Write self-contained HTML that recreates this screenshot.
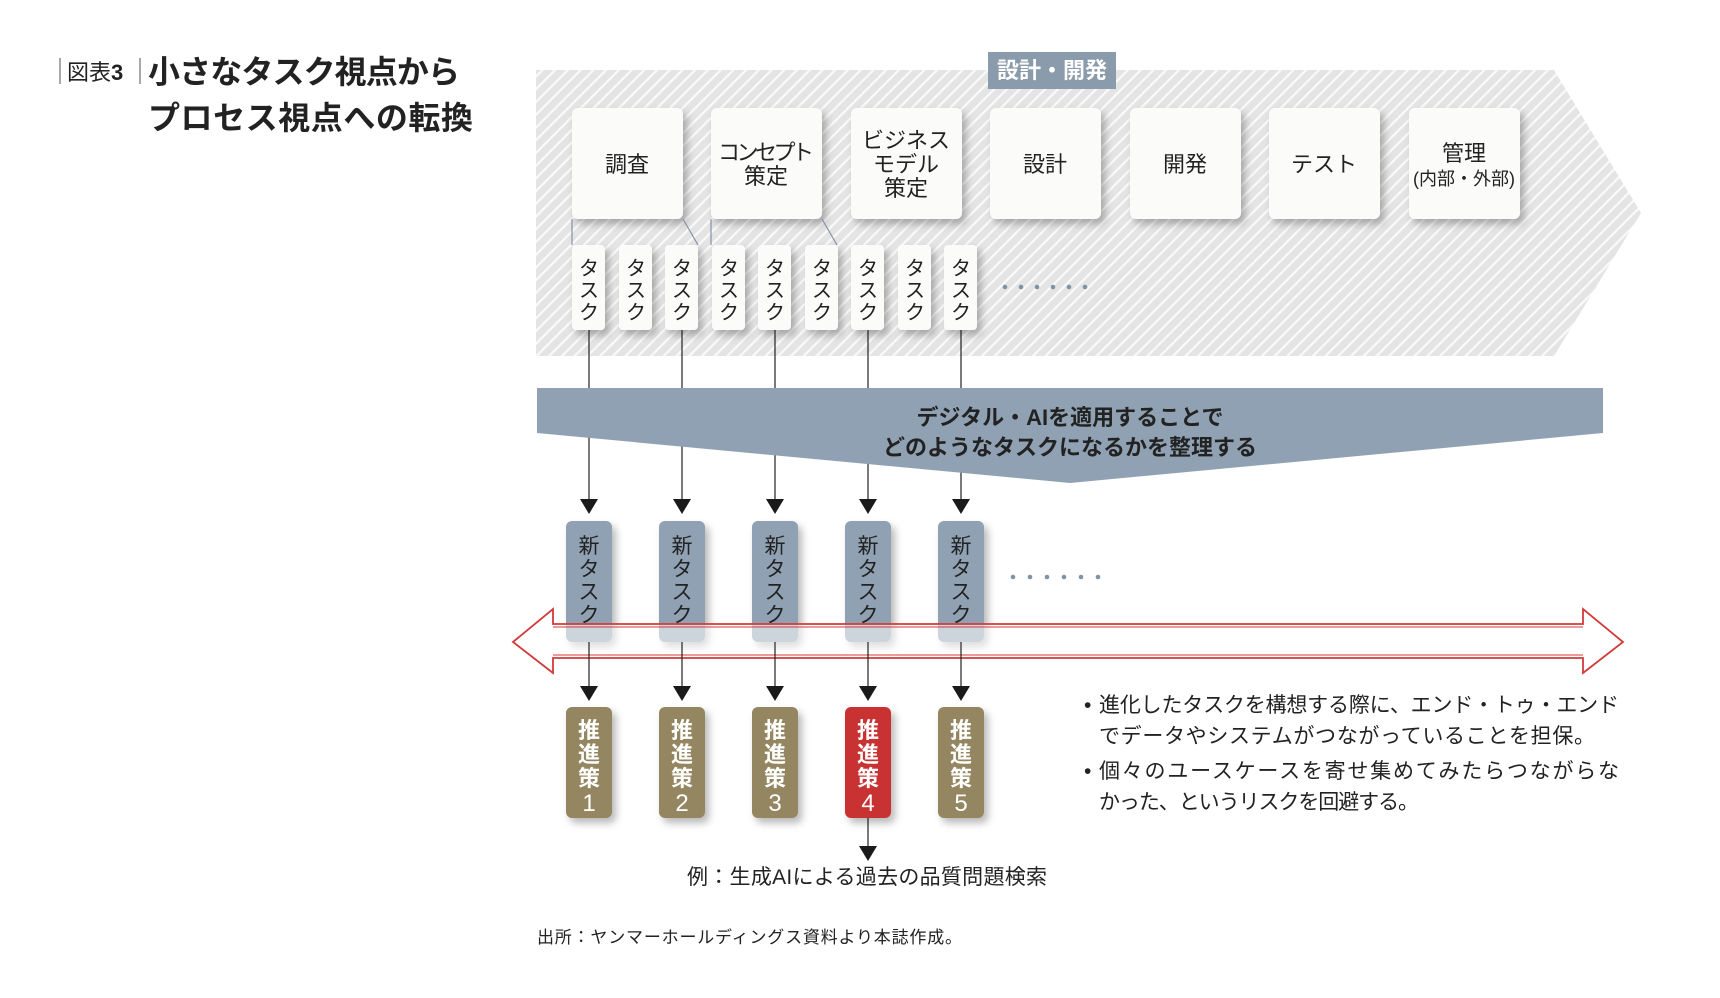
<!DOCTYPE html>
<html><head><meta charset="utf-8"><style>
html,body{margin:0;padding:0;background:#fff;}
svg{display:block;font-family:"Liberation Sans","Noto Sans CJK JP",sans-serif;}
</style></head><body>
<svg width="1720" height="998" viewBox="0 0 1720 998" xmlns="http://www.w3.org/2000/svg">
<defs>
<pattern id="h" patternUnits="userSpaceOnUse" width="9" height="9" patternTransform="rotate(45)">
<rect width="9" height="9" fill="#e4e4e4"/><rect width="2.2" height="9" fill="#fafafa"/>
</pattern>
<filter id="sh" x="-30%" y="-30%" width="170%" height="170%"><feDropShadow dx="4" dy="5" stdDeviation="4" flood-color="#000" flood-opacity="0.28"/></filter>
</defs>
<!-- title -->
<line x1="60" y1="58" x2="60" y2="84" stroke="#555" stroke-width="1"/>
<text x="67" y="80" font-size="22" fill="#222">図表<tspan font-weight="bold">3</tspan></text>
<line x1="140" y1="58" x2="140" y2="84" stroke="#555" stroke-width="1"/>
<text x="148" y="83" font-size="32" font-weight="bold" fill="#222" textLength="312">小さなタスク視点から</text>
<text x="148" y="129" font-size="32" font-weight="bold" fill="#222" textLength="325">プロセス視点への転換</text>
<!-- hatched arrow -->
<polygon points="536,70 1554,70 1641,213 1554,356 536,356" fill="url(#h)"/>
<rect x="988" y="52" width="128" height="37" fill="#8a9bab"/>
<text x="1052" y="78" font-size="22" font-weight="bold" fill="#fff" text-anchor="middle">設計・開発</text>
<!-- phase boxes -->
<g filter="url(#sh)" fill="#fbfbf9">
<rect x="572" y="108" width="111" height="111" rx="6"/>
<rect x="711" y="108" width="111" height="111" rx="6"/>
<rect x="851" y="108" width="111" height="111" rx="6"/>
<rect x="990" y="108" width="111" height="111" rx="6"/>
<rect x="1130" y="108" width="111" height="111" rx="6"/>
<rect x="1269" y="108" width="111" height="111" rx="6"/>
<rect x="1409" y="108" width="111" height="111" rx="6"/>
</g>
<g font-size="22" fill="#222" text-anchor="middle">
<text x="627" y="172">調査</text>
<text x="766" y="160" textLength="96">コンセプト</text><text x="766" y="184">策定</text>
<text x="906" y="148">ビジネス</text><text x="906" y="172">モデル</text><text x="906" y="196">策定</text>
<text x="1045" y="172">設計</text>
<text x="1185" y="172">開発</text>
<text x="1324" y="172">テスト</text>
<text x="1464" y="161">管理</text>
<text x="1464" y="185" font-size="18">(内部・外部)</text>
</g>
<g stroke="#7f93a6" stroke-width="1.2">
<line x1="572" y1="219" x2="572" y2="245"/><line x1="683" y1="219" x2="698" y2="245"/>
<line x1="711" y1="219" x2="711" y2="245"/><line x1="822" y1="219" x2="837" y2="245"/>
</g>
<!-- tasks -->
<g filter="url(#sh)" fill="#fbfbf9">
<rect x="572" y="245" width="33" height="85" rx="4"/>
<rect x="619" y="245" width="33" height="85" rx="4"/>
<rect x="665" y="245" width="33" height="85" rx="4"/>
<rect x="712" y="245" width="33" height="85" rx="4"/>
<rect x="758" y="245" width="33" height="85" rx="4"/>
<rect x="805" y="245" width="33" height="85" rx="4"/>
<rect x="851" y="245" width="33" height="85" rx="4"/>
<rect x="898" y="245" width="33" height="85" rx="4"/>
<rect x="944" y="245" width="33" height="85" rx="4"/>
</g>
<g font-size="20" fill="#222" text-anchor="middle">
<text x="589" y="275">タ</text><text x="589" y="297">ス</text><text x="589" y="319">ク</text>
<text x="636" y="275">タ</text><text x="636" y="297">ス</text><text x="636" y="319">ク</text>
<text x="682" y="275">タ</text><text x="682" y="297">ス</text><text x="682" y="319">ク</text>
<text x="729" y="275">タ</text><text x="729" y="297">ス</text><text x="729" y="319">ク</text>
<text x="775" y="275">タ</text><text x="775" y="297">ス</text><text x="775" y="319">ク</text>
<text x="822" y="275">タ</text><text x="822" y="297">ス</text><text x="822" y="319">ク</text>
<text x="868" y="275">タ</text><text x="868" y="297">ス</text><text x="868" y="319">ク</text>
<text x="915" y="275">タ</text><text x="915" y="297">ス</text><text x="915" y="319">ク</text>
<text x="961" y="275">タ</text><text x="961" y="297">ス</text><text x="961" y="319">ク</text>
</g>
<g fill="#7f93a6">
<circle cx="1005" cy="287" r="2.3"/><circle cx="1021" cy="287" r="2.3"/><circle cx="1037" cy="287" r="2.3"/><circle cx="1053" cy="287" r="2.3"/><circle cx="1069" cy="287" r="2.3"/><circle cx="1085" cy="287" r="2.3"/>
<circle cx="1013" cy="577" r="2.3"/><circle cx="1030" cy="577" r="2.3"/><circle cx="1047" cy="577" r="2.3"/><circle cx="1064" cy="577" r="2.3"/><circle cx="1081" cy="577" r="2.3"/><circle cx="1098" cy="577" r="2.3"/>
</g>
<!-- connectors -->
<g stroke="#222" stroke-width="1.2">
<line x1="589" y1="330" x2="589" y2="505"/><line x1="682" y1="330" x2="682" y2="505"/><line x1="775" y1="330" x2="775" y2="505"/><line x1="868" y1="330" x2="868" y2="505"/><line x1="961" y1="330" x2="961" y2="505"/>
</g>
<!-- band -->
<polygon points="537,388 1603,388 1603,433 1070,483 537,433" fill="#8fa1b2"/>
<g font-size="22" font-weight="bold" fill="#222" text-anchor="middle">
<text x="1070" y="425">デジタル・AIを適用することで</text>
<text x="1070" y="455">どのようなタスクになるかを整理する</text>
</g>
<g fill="#1a1a1a">
<polygon points="580,499 598,499 589,514"/><polygon points="673,499 691,499 682,514"/><polygon points="766,499 784,499 775,514"/><polygon points="859,499 877,499 868,514"/><polygon points="952,499 970,499 961,514"/>
</g>
<!-- new tasks -->
<g filter="url(#sh)" fill="#8fa1b2">
<rect x="566" y="521" width="46" height="121" rx="6"/><rect x="659" y="521" width="46" height="121" rx="6"/><rect x="752" y="521" width="46" height="121" rx="6"/><rect x="845" y="521" width="46" height="121" rx="6"/><rect x="938" y="521" width="46" height="121" rx="6"/>
</g>
<g font-size="21" fill="#222" text-anchor="middle">
<text x="589" y="553">新</text><text x="589" y="576">タ</text><text x="589" y="599">ス</text><text x="589" y="622">ク</text>
<text x="682" y="553">新</text><text x="682" y="576">タ</text><text x="682" y="599">ス</text><text x="682" y="622">ク</text>
<text x="775" y="553">新</text><text x="775" y="576">タ</text><text x="775" y="599">ス</text><text x="775" y="622">ク</text>
<text x="868" y="553">新</text><text x="868" y="576">タ</text><text x="868" y="599">ス</text><text x="868" y="622">ク</text>
<text x="961" y="553">新</text><text x="961" y="576">タ</text><text x="961" y="599">ス</text><text x="961" y="622">ク</text>
</g>
<!-- red double arrow -->
<polygon points="513,642 553,609 553,624 1583,624 1583,609 1623,642 1583,673 1583,658 553,658 553,673" fill="#fff" fill-opacity="0.55" stroke="#d23a3a" stroke-width="1.8"/>
<line x1="553" y1="627" x2="1583" y2="627" stroke="#d23a3a" stroke-width="1"/>
<line x1="553" y1="655" x2="1583" y2="655" stroke="#d23a3a" stroke-width="1"/>
<g stroke="#222" stroke-width="1.2">
<line x1="589" y1="642" x2="589" y2="692"/><line x1="682" y1="642" x2="682" y2="692"/><line x1="775" y1="642" x2="775" y2="692"/><line x1="868" y1="642" x2="868" y2="692"/><line x1="961" y1="642" x2="961" y2="692"/>
<line x1="868" y1="818" x2="868" y2="852"/>
</g>
<g fill="#1a1a1a">
<polygon points="580,686 598,686 589,701"/><polygon points="673,686 691,686 682,701"/><polygon points="766,686 784,686 775,701"/><polygon points="859,686 877,686 868,701"/><polygon points="952,686 970,686 961,701"/>
<polygon points="859,846 877,846 868,861"/>
</g>
<!-- policy -->
<g filter="url(#sh)">
<rect x="566" y="707" width="46" height="111" rx="6" fill="#948660"/><rect x="659" y="707" width="46" height="111" rx="6" fill="#948660"/><rect x="752" y="707" width="46" height="111" rx="6" fill="#948660"/><rect x="845" y="707" width="46" height="111" rx="6" fill="#c83232"/><rect x="938" y="707" width="46" height="111" rx="6" fill="#948660"/>
</g>
<g font-size="22" font-weight="bold" fill="#fff" text-anchor="middle">
<text x="589" y="738">推</text><text x="589" y="762">進</text><text x="589" y="786">策</text><text x="589" y="811" font-weight="normal" font-size="24">1</text>
<text x="682" y="738">推</text><text x="682" y="762">進</text><text x="682" y="786">策</text><text x="682" y="811" font-weight="normal" font-size="24">2</text>
<text x="775" y="738">推</text><text x="775" y="762">進</text><text x="775" y="786">策</text><text x="775" y="811" font-weight="normal" font-size="24">3</text>
<text x="868" y="738">推</text><text x="868" y="762">進</text><text x="868" y="786">策</text><text x="868" y="811" font-weight="normal" font-size="24">4</text>
<text x="961" y="738">推</text><text x="961" y="762">進</text><text x="961" y="786">策</text><text x="961" y="811" font-weight="normal" font-size="24">5</text>
</g>
<text x="687" y="884" font-size="21" fill="#222" textLength="360">例：生成AIによる過去の品質問題検索</text>
<text x="537" y="943" font-size="17" fill="#222" textLength="425">出所：ヤンマーホールディングス資料より本誌作成。</text>
<g font-size="21" fill="#222">
<text x="1084" y="712">•</text><text x="1099" y="712" textLength="520">進化したタスクを構想する際に、エンド・トゥ・エンド</text>
<text x="1099" y="743" textLength="496">でデータやシステムがつながっていることを担保。</text>
<text x="1084" y="778">•</text><text x="1099" y="778" textLength="520">個々のユースケースを寄せ集めてみたらつながらな</text>
<text x="1099" y="809" textLength="320">かった、というリスクを回避する。</text>
</g>
</svg>
</body></html>
